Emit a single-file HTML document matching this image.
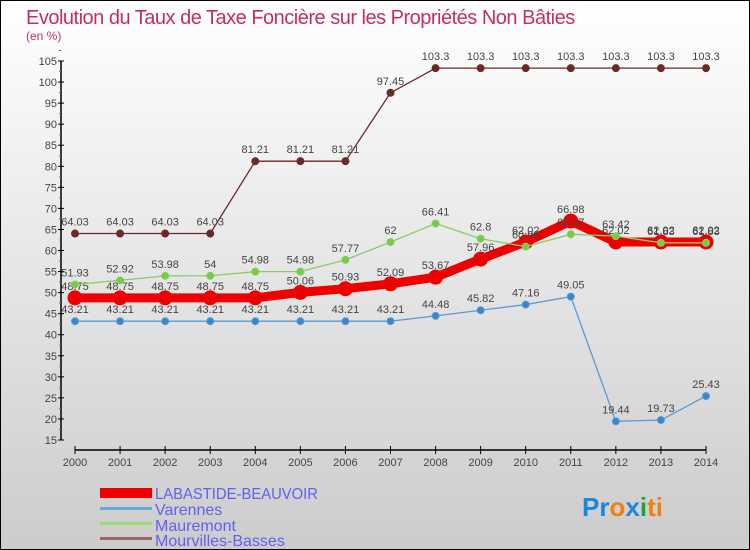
<!DOCTYPE html>
<html><head><meta charset="utf-8"><style>
body{margin:0}
#c{width:750px;height:550px;position:relative;box-sizing:border-box;border:1px solid #000;background:linear-gradient(#fff,#ccc);font-family:"Liberation Sans",sans-serif;overflow:hidden}
</style></head><body>
<div id="c">
<svg id="s" width="750" height="550" style="position:absolute;left:-1px;top:-1px">
<text x="26" y="24" font-size="20" fill="#c4305c" style="letter-spacing:-0.5px">Evolution du Taux de Taxe Foncière sur les Propriétés Non Bâties</text>
<text x="26" y="40" font-size="12" fill="#c4305c">(en %)</text>
<g id="ax"></g><g id="ser"></g>
<g>
<rect x="100" y="488" width="52" height="10" fill="#e00"/>
<text x="155" y="499" font-size="16" fill="#6060ee" textLength="163" lengthAdjust="spacingAndGlyphs">LABASTIDE-BEAUVOIR</text>
<rect x="100" y="507" width="52" height="3" fill="#6fa8d8"/>
<text x="155" y="515" font-size="16" fill="#6060ee">Varennes</text>
<rect x="100" y="522" width="52" height="3" fill="#99dd77"/>
<text x="155" y="531" font-size="16" fill="#6060ee">Mauremont</text>
<rect x="100" y="537" width="52" height="3" fill="#996666"/>
<text x="155" y="546" font-size="16" fill="#6060ee">Mourvilles-Basses</text>
</g>
<text x="582" y="516" font-size="26" font-weight="bold"><tspan fill="#1a88d8">Pr</tspan><tspan fill="#f08010">o</tspan><tspan fill="#1a88d8">x</tspan><tspan fill="#20a040">i</tspan><tspan fill="#f08010">ti</tspan></text>
</svg></div>
<script>
const years=[2000,2001,2002,2003,2004,2005,2006,2007,2008,2009,2010,2011,2012,2013,2014];
const yTicks=[15,20,25,30,35,40,45,50,55,60,65,70,75,80,85,90,95,100,105];
const labastide=[48.75,48.75,48.75,48.75,48.75,50.06,50.93,52.09,53.67,57.96,62.02,66.98,62.02,62.02,62.02];
const varennes=[43.21,43.21,43.21,43.21,43.21,43.21,43.21,43.21,44.48,45.82,47.16,49.05,19.44,19.73,25.43];
const mauremont=[51.93,52.92,53.98,54,54.98,54.98,57.77,62,66.41,62.8,60.92,63.87,63.42,61.83,61.83];
const mourvilles=[64.03,64.03,64.03,64.03,81.21,81.21,81.21,97.45,103.3,103.3,103.3,103.3,103.3,103.3,103.3];
const NS="http://www.w3.org/2000/svg";
const X=i=>75+i*(706-75)/(years.length-1);
const Y=v=>61+(105-v)*(440-61)/90;
function mk(t,a,p){const e=document.createElementNS(NS,t);for(const k in a)e.setAttribute(k,a[k]);p.appendChild(e);return e;}
const ax=document.getElementById('ax'),ser=document.getElementById('ser');
let yl=mk('line',{x1:61,y1:Y(105),x2:61,y2:Y(15),stroke:'#000','stroke-width':1.5},ax);


yTicks.forEach(v=>{
 mk('line',{x1:58,y1:Y(v),x2:64,y2:Y(v),stroke:'#000'},ax);
 mk('line',{x1:59,y1:Y(v+2.5),x2:61,y2:Y(v+2.5),stroke:'#e33'},ax);
 const t=mk('text',{x:57,y:Y(v)+4,'font-size':11,fill:'#444','text-anchor':'end'},ax);t.textContent=v;
 
 
});
let xl=mk('line',{x1:75,y1:450,x2:706,y2:450,stroke:'#000','stroke-width':1.5},ax);


years.forEach((y,i)=>{
 mk('line',{x1:X(i),y1:446,x2:X(i),y2:454,stroke:'#000'},ax);
 const t=mk('text',{x:X(i),y:466,'font-size':11,fill:'#444','text-anchor':'middle'},ax);t.textContent=y;
 
 
});
function series(d,name,col,w,r,dot){
 const g=mk('g',{},ser);
 
 
 mk('polyline',{points:d.map((v,i)=>X(i)+','+Y(v)).join(' '),fill:'none',stroke:col,'stroke-width':w,'stroke-linejoin':'round'},g);
 d.forEach((v,i)=>{
  const c=mk('circle',{cx:X(i),cy:Y(v),r:r,fill:dot,stroke:col,'stroke-width':1},g);
  
  
  const t=mk('text',{x:X(i),y:Y(v)-8,'font-size':11,fill:'#444','text-anchor':'middle'},g);t.textContent=v;
  
  
 });
}
series(mourvilles,'mourvilles','#6b2a2a',1.3,3.5,'#6b2a2a');
series(varennes,'varennes','#5a9ad4',1.3,3.5,'#3a86c8');
series(labastide,'labastide','#ee0000',9,7,'#ee0000');
series(mauremont,'mauremont','#88cc66',1.3,3.5,'#77cc44');
</script>
</body></html>
